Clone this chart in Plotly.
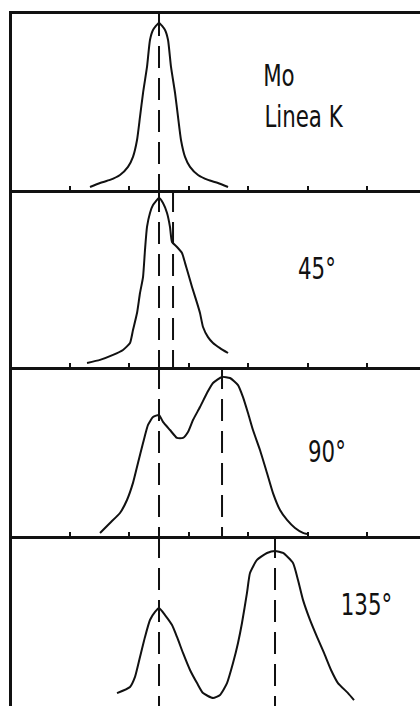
import plotly.graph_objects as go

# Compton scattering of Mo K radiation: intensity profiles (arbitrary units)
# at increasing scattering angles; x in arbitrary wavelength units.

# Primary Mo K line
mo_x = [1.338, 1.507, 1.675, 1.843, 1.978, 2.062, 2.130, 2.180, 2.231, 2.298, 2.348, 2.399,
        2.500, 2.601, 2.652, 2.702, 2.770, 2.820, 2.870, 2.938, 3.022, 3.157, 3.325, 3.493, 3.662]
mo_y = [0.017, 0.040, 0.057, 0.085, 0.131, 0.188, 0.284, 0.415, 0.551, 0.699, 0.852, 0.909,
        0.949, 0.909, 0.852, 0.699, 0.551, 0.415, 0.284, 0.188, 0.131, 0.085, 0.057, 0.040, 0.017]

# Scattered at 45 degrees
s45_x = [1.288, 1.507, 1.726, 1.894, 2.012, 2.062, 2.130, 2.180, 2.231, 2.264, 2.298, 2.348,
         2.399, 2.500, 2.567, 2.635, 2.685, 2.719, 2.803, 2.887, 2.938, 2.988, 3.056, 3.140,
         3.190, 3.241, 3.325, 3.409, 3.527, 3.662]
s45_y = [0.023, 0.040, 0.068, 0.096, 0.136, 0.209, 0.305, 0.418, 0.508, 0.661, 0.791, 0.870,
         0.915, 0.955, 0.927, 0.870, 0.791, 0.706, 0.678, 0.644, 0.588, 0.531, 0.452, 0.362,
         0.305, 0.226, 0.169, 0.136, 0.107, 0.079]

# Scattered at 90 degrees
s90_x = [1.507, 1.675, 1.843, 1.961, 2.062, 2.146, 2.231, 2.315, 2.399, 2.500, 2.567, 2.685,
         2.803, 2.904, 2.988, 3.072, 3.190, 3.308, 3.409, 3.561, 3.695, 3.830, 3.914, 3.998,
         4.082, 4.200, 4.318, 4.419, 4.537, 4.655, 4.790, 4.924, 4.992]
s90_y = [0.018, 0.077, 0.136, 0.213, 0.314, 0.432, 0.550, 0.657, 0.704, 0.716, 0.675, 0.627,
         0.580, 0.580, 0.615, 0.686, 0.763, 0.846, 0.905, 0.941, 0.935, 0.893, 0.822, 0.728,
         0.627, 0.509, 0.373, 0.254, 0.154, 0.095, 0.047, 0.018, 0.012]

# Scattered at 135 degrees
s135_x = [1.793, 2.012, 2.096, 2.180, 2.264, 2.348, 2.433, 2.500, 2.601, 2.719, 2.803, 2.904,
          3.022, 3.140, 3.241, 3.409, 3.527, 3.645, 3.746, 3.830, 3.897, 3.981, 4.032, 4.150,
          4.318, 4.453, 4.588, 4.756, 4.840, 4.924, 5.042, 5.160, 5.278, 5.396, 5.513, 5.682, 5.783]
s135_y = [0.076, 0.112, 0.171, 0.288, 0.406, 0.506, 0.553, 0.576, 0.535, 0.476, 0.406, 0.312,
          0.212, 0.135, 0.076, 0.047, 0.065, 0.135, 0.253, 0.371, 0.488, 0.665, 0.782, 0.859,
          0.900, 0.912, 0.900, 0.841, 0.741, 0.624, 0.506, 0.406, 0.312, 0.212, 0.135, 0.076, 0.035]

# Unshifted line and Compton-shifted line positions for each panel
line_unshifted = 2.500
line_shifted = [None, 2.736, 3.561, 4.453]

panel_labels = ["Mo", "45°", "90°", "135°"]
tick_vals = [1, 2, 3, 4, 5, 6]

curves = [(mo_x, mo_y), (s45_x, s45_y), (s90_x, s90_y), (s135_x, s135_y)]

# Vertical extents of the four stacked panels (paper fraction)
domains = [[0.7457, 1.0], [0.4899, 0.7457], [0.2457, 0.4899], [0.0, 0.2457]]

INK = "#111111"
FONT = "DejaVu Sans Condensed, DejaVu Sans, sans-serif"

fig = go.Figure()
layout = {}
for i, ((cx, cy), dom) in enumerate(zip(curves, domains)):
    n = i + 1
    xa = "x" if n == 1 else f"x{n}"
    ya = "y" if n == 1 else f"y{n}"

    # dashed marker lines: unshifted position plus shifted one
    dash_positions = [line_unshifted] + ([line_shifted[i]] if line_shifted[i] else [])
    for xv in dash_positions:
        fig.add_trace(go.Scatter(
            x=[xv, xv], y=[1.0, 0.0], xaxis=xa, yaxis=ya, mode="lines",
            line=dict(color=INK, width=2, dash="22px,10px"),
            hoverinfo="skip", showlegend=False))

    fig.add_trace(go.Scatter(
        x=cx, y=cy, xaxis=xa, yaxis=ya, mode="lines",
        line=dict(color=INK, width=2, shape="spline", smoothing=0.5),
        hoverinfo="skip", showlegend=False))

    # only the top panel draws the frame's top edge; the lowest panel is
    # open at the bottom, its top edge being the panel above's bottom line
    last = (n == 4)
    layout[f"xaxis{'' if n == 1 else n}"] = dict(
        domain=[0, 1], range=[0.025, 6.894], anchor=ya,
        showgrid=False, zeroline=False, showticklabels=False,
        showline=not last, linecolor=INK, linewidth=2.5,
        mirror=(n == 1),
        ticks="" if last else "inside", tickvals=tick_vals,
        ticklen=4, tickwidth=1.6, tickcolor=INK)
    layout[f"yaxis{'' if n == 1 else n}"] = dict(
        domain=dom, range=[0, 1], anchor=xa,
        showgrid=False, zeroline=False, showticklabels=False, ticks="",
        showline=True, linecolor=INK, linewidth=2.5, mirror=False)

fig.update_layout(**layout)

annotations = [
    dict(text="Mo", x=4.520, y=0.653, xref="x", yref="y domain"),
    dict(text="Linea K", x=4.941, y=0.418, xref="x", yref="y domain"),
    dict(text=panel_labels[1], x=5.168, y=0.554, xref="x2", yref="y2 domain"),
    dict(text=panel_labels[2], x=5.320, y=0.497, xref="x3", yref="y3 domain"),
    dict(text=panel_labels[3], x=5.985, y=0.597, xref="x4", yref="y4 domain"),
]
for a in annotations:
    a.update(showarrow=False, xanchor="center", yanchor="middle",
             font=dict(family=FONT, size=30, color=INK))
fig.update_layout(annotations=annotations)

fig.update_layout(
    width=420, height=706,
    margin=dict(l=12, r=0, t=14, b=0),
    paper_bgcolor="white", plot_bgcolor="white",
)

# narrow the label lettering (tall, condensed face) around each label's centre
narrow_labels = """
var gd = document.getElementById('{plot_id}');
gd.querySelectorAll('text.annotation-text').forEach(function (t) {
    var w = t.getComputedTextLength();
    t.setAttribute('textLength', (w * 0.79).toFixed(1));
    t.setAttribute('lengthAdjust', 'spacingAndGlyphs');
});
"""

fig.write_html("out.html", post_script=narrow_labels)
